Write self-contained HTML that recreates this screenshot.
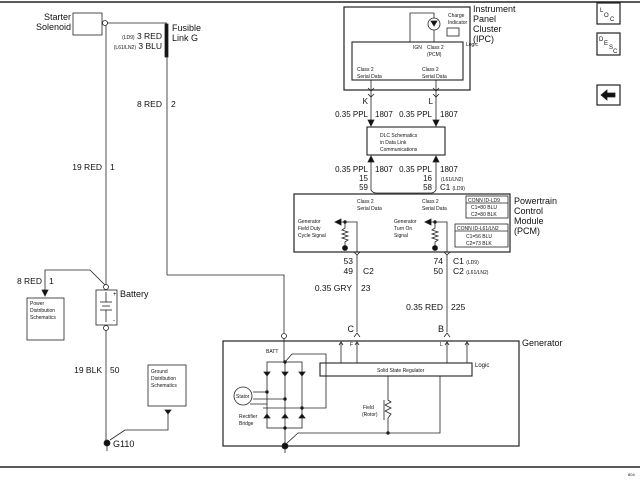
<!DOCTYPE html>
<html><head><style>body{margin:0;background:#fff}svg{display:block}text{font-family:"Liberation Sans",sans-serif;fill:#111}</style></head><body>
<svg width="640" height="480" viewBox="0 0 640 480" xmlns="http://www.w3.org/2000/svg" stroke="#222" fill="none" stroke-width="0.8">
<line x1="0" y1="2" x2="640" y2="2" stroke-width="1.5"/>
<line x1="0" y1="467" x2="640" y2="467" stroke-width="1.5"/>
<rect x="73" y="13" width="29" height="22"/>
<circle cx="105" cy="23" r="2.5" fill="#fff"/>
<line x1="106" y1="25" x2="106" y2="285"/>
<line x1="107" y1="23" x2="167" y2="23"/>
<rect x="165" y="24" width="3" height="33" fill="#111"/>
<line x1="167" y1="57" x2="167" y2="275"/>
<polyline points="167,275 284,275 284,333"/>
<circle cx="284" cy="336" r="2.5" fill="#fff"/>
<circle cx="106" cy="287" r="2.5" fill="#fff"/>
<rect x="96" y="290" width="21" height="35"/>
<line x1="100" y1="302" x2="112" y2="302"/><line x1="102" y1="306" x2="110" y2="306"/><line x1="100" y1="310" x2="112" y2="310"/>
<line x1="106" y1="292" x2="106" y2="302"/><line x1="106" y1="310" x2="106" y2="322"/>
<circle cx="106" cy="328" r="2.5" fill="#fff"/>
<polyline points="105,285 90,270 45,270 45,290"/>
<polygon points="42,290 48,290 45,296" fill="#111"/>
<rect x="27" y="298" width="37" height="42"/>
<line x1="106" y1="330" x2="106" y2="442"/>
<circle cx="107" cy="443" r="3" fill="#111"/>
<line x1="107" y1="446" x2="107" y2="451"/>
<rect x="148" y="365" width="38" height="41"/>
<polygon points="165,410 171,410 168,414" fill="#111"/>
<polyline points="168,414 168,430 125,430 110,440"/>
<rect x="344" y="7" width="126" height="83" stroke-width="1.2"/>
<rect x="352" y="42" width="111" height="38" stroke-width="1.1"/>
<polyline points="410,42 410,13 434,13 434,42"/>
<circle cx="434" cy="24" r="6" fill="#fff"/>
<polygon points="431,21 437,21 434,26" fill="#111"/>
<rect x="447" y="28" width="12" height="8"/>
<line x1="371" y1="80" x2="371" y2="122"/><line x1="436" y1="80" x2="436" y2="122"/>
<polyline points="368,88 371,91 374,88"/><polyline points="433,88 436,91 439,88"/>
<polyline points="368,94 371,97 374,94"/><polyline points="433,94 436,97 439,94"/>
<polygon points="368,120 374,120 371,126" fill="#111"/><polygon points="433,120 439,120 436,126" fill="#111"/>
<rect x="367" y="127" width="78" height="28" stroke-width="1.1"/>
<line x1="371" y1="160" x2="371" y2="190"/><line x1="436" y1="160" x2="436" y2="190"/>
<polygon points="368,162 374,162 371,156" fill="#111"/><polygon points="433,162 439,162 436,156" fill="#111"/>
<path d="M371,190 Q373,193 376,193 L431,193 Q434,193 436,190"/>
<rect x="294" y="194" width="216" height="58" stroke-width="1.2"/>
<rect x="466" y="196" width="42" height="22"/><line x1="466" y1="203" x2="508" y2="203"/>
<rect x="455" y="224" width="53" height="23"/><line x1="455" y1="231" x2="508" y2="231"/>
<polyline points="340,222 357,222 357,252"/><polygon points="335,222 341,219 341,225" fill="#111"/>
<polyline points="430,222 447,222 447,252"/><polygon points="425,222 431,219 431,225" fill="#111"/>
<circle cx="345" cy="222" r="1.3" fill="#111"/><circle cx="435" cy="222" r="1.3" fill="#111"/>
<polyline points="345,222 345,228 342,230 348,232 342,234 348,236 342,238 348,240 345,242 345,246"/>
<polyline points="435,222 435,228 432,230 438,232 432,234 438,236 432,238 438,240 435,242 435,246"/>
<circle cx="345" cy="248" r="2.5" fill="#111"/><circle cx="435" cy="248" r="2.5" fill="#111"/>
<polyline points="354,252 357,255 360,252"/><polyline points="444,252 447,255 450,252"/>
<line x1="357" y1="255" x2="357" y2="332"/><line x1="447" y1="255" x2="447" y2="332"/>
<polyline points="354,337 357,333 360,337"/><polyline points="444,337 447,333 450,337"/>
<rect x="223" y="341" width="296" height="105" stroke-width="1.2"/>
<line x1="284" y1="338" x2="284" y2="362"/>
<line x1="341" y1="343" x2="341" y2="363"/><line x1="357" y1="343" x2="357" y2="363"/>
<line x1="447" y1="343" x2="447" y2="363"/><line x1="467" y1="343" x2="467" y2="363"/>
<polyline points="339,345 341,342 343,345"/><polyline points="355,345 357,342 359,345"/>
<polyline points="445,345 447,342 449,345"/><polyline points="465,345 467,342 469,345"/>
<rect x="320" y="363" width="152" height="13" stroke-width="1.1"/>
<rect x="267" y="362" width="35" height="66"/>
<line x1="285" y1="362" x2="285" y2="446"/>
<polyline points="285,362 292,354 326,354 326,408 263,408"/>
<line x1="253" y1="392" x2="267" y2="392"/><line x1="253" y1="399" x2="285" y2="399"/><line x1="250" y1="404" x2="267" y2="404"/>
<g fill="#111">
<polygon points="264,372 270,372 267,376"/><polygon points="282,372 288,372 285,376"/><polygon points="299,372 305,372 302,376"/>
<polygon points="264,418 270,418 267,414"/><polygon points="282,418 288,418 285,414"/><polygon points="299,418 305,418 302,414"/>
<circle cx="285" cy="362" r="1.3"/><circle cx="267" cy="392" r="1.3"/><circle cx="285" cy="399" r="1.3"/><circle cx="302" cy="408" r="1.3"/><circle cx="285" cy="428" r="1.3"/><circle cx="388" cy="433" r="1.3"/>
<circle cx="285" cy="446" r="3"/></g>
<line x1="285" y1="449" x2="285" y2="453"/>
<circle cx="243" cy="396" r="9" fill="#fff"/>
<polyline points="388,376 388,400 391,402 385,405 391,408 385,411 391,414 388,418 388,433"/>
<line x1="384" y1="400" x2="384" y2="420" stroke="#888" stroke-width="1.5"/>
<polyline points="440,376 440,433 298,433 287,443"/>
<rect x="597" y="3" width="23" height="21" stroke-width="1.2"/>
<rect x="597" y="33" width="23" height="22" stroke-width="1.2"/>
<rect x="597" y="85" width="23" height="20" stroke-width="1.2"/>
<polygon points="601,95 607,90 607,93 615,93 615,97 607,97 607,100" fill="#111"/>
<g stroke="none">
<text x="71" y="20" font-size="9" text-anchor="end">Starter</text>
<text x="71" y="30" font-size="9" text-anchor="end">Solenoid</text>
<text x="162" y="39" font-size="8.5" text-anchor="end"><tspan font-size="5">(LD9)</tspan> 3 RED</text>
<text x="162" y="49" font-size="8.5" text-anchor="end"><tspan font-size="5">(L61/LN2)</tspan> 3 BLU</text>
<text x="172" y="31" font-size="9">Fusible</text>
<text x="172" y="41" font-size="9">Link G</text>
<text x="162" y="107" font-size="8.5" text-anchor="end">8 RED</text><text x="171" y="107" font-size="8.5">2</text>
<text x="102" y="170" font-size="8.5" text-anchor="end">19 RED</text><text x="110" y="170" font-size="8.5">1</text>
<text x="42" y="284" font-size="8.5" text-anchor="end">8 RED</text><text x="49" y="284" font-size="8.5">1</text>
<text x="30" y="305" font-size="5">Power</text><text x="30" y="312" font-size="5">Distribution</text><text x="30" y="319" font-size="5">Schematics</text>
<text x="120" y="297" font-size="9">Battery</text>
<text x="113" y="296" font-size="6">+</text><text x="113" y="322" font-size="6">-</text>
<text x="102" y="373" font-size="8.5" text-anchor="end">19 BLK</text><text x="110" y="373" font-size="8.5">50</text>
<text x="151" y="373" font-size="5">Ground</text><text x="151" y="380" font-size="5">Distribution</text><text x="151" y="387" font-size="5">Schematics</text>
<text x="113" y="447" font-size="9">G110</text>
<text x="473" y="12" font-size="9">Instrument</text><text x="473" y="22" font-size="9">Panel</text><text x="473" y="32" font-size="9">Cluster</text><text x="473" y="42" font-size="9">(IPC)</text>
<text x="448" y="17" font-size="5">Charge</text><text x="448" y="24" font-size="5">Indicator</text>
<text x="466" y="46" font-size="5">Logic</text>
<text x="413" y="49" font-size="5">IGN</text>
<text x="427" y="49" font-size="5">Class 2</text><text x="427" y="56" font-size="5">(PCM)</text>
<text x="357" y="71" font-size="5">Class 2</text><text x="357" y="78" font-size="5">Serial Data</text>
<text x="422" y="71" font-size="5">Class 2</text><text x="422" y="78" font-size="5">Serial Data</text>
<text x="368" y="104" font-size="8" text-anchor="end">K</text><text x="433" y="104" font-size="8" text-anchor="end">L</text>
<text x="368" y="117" font-size="8" text-anchor="end">0.35 PPL</text><text x="375" y="117" font-size="8">1807</text>
<text x="432" y="117" font-size="8" text-anchor="end">0.35 PPL</text><text x="440" y="117" font-size="8">1807</text>
<text x="380" y="137" font-size="5">DLC Schematics</text><text x="380" y="144" font-size="5">in Data Link</text><text x="380" y="151" font-size="5">Communications</text>
<text x="368" y="172" font-size="8" text-anchor="end">0.35 PPL</text><text x="375" y="172" font-size="8">1807</text>
<text x="432" y="172" font-size="8" text-anchor="end">0.35 PPL</text><text x="440" y="172" font-size="8">1807</text>
<text x="368" y="181" font-size="8" text-anchor="end">15</text><text x="432" y="181" font-size="8" text-anchor="end">16</text><text x="441" y="181" font-size="5">(L61/LN2)</text>
<text x="368" y="190" font-size="8" text-anchor="end">59</text><text x="432" y="190" font-size="8" text-anchor="end">58</text><text x="440" y="190" font-size="8">C1 <tspan font-size="5">(LD9)</tspan></text>
<text x="357" y="203" font-size="5">Class 2</text><text x="357" y="210" font-size="5">Serial Data</text>
<text x="422" y="203" font-size="5">Class 2</text><text x="422" y="210" font-size="5">Serial Data</text>
<text x="468" y="202" font-size="5">CONN ID-LD9</text><text x="471" y="209" font-size="5">C1=80 BLU</text><text x="471" y="216" font-size="5">C2=80 BLK</text>
<text x="457" y="230" font-size="5">CONN ID-L61/LN2</text><text x="466" y="238" font-size="5">C1=56 BLU</text><text x="466" y="245" font-size="5">C2=73 BLK</text>
<text x="298" y="223" font-size="5">Generator</text><text x="298" y="230" font-size="5">Field Duty</text><text x="298" y="237" font-size="5">Cycle Signal</text>
<text x="394" y="223" font-size="5">Generator</text><text x="394" y="230" font-size="5">Turn On</text><text x="394" y="237" font-size="5">Signal</text>
<text x="514" y="204" font-size="9">Powertrain</text><text x="514" y="214" font-size="9">Control</text><text x="514" y="224" font-size="9">Module</text><text x="514" y="234" font-size="9">(PCM)</text>
<text x="353" y="264" font-size="8.5" text-anchor="end">53</text><text x="353" y="274" font-size="8.5" text-anchor="end">49</text><text x="363" y="274" font-size="8.5">C2</text>
<text x="443" y="264" font-size="8.5" text-anchor="end">74</text><text x="453" y="264" font-size="8.5">C1 <tspan font-size="5">(LD9)</tspan></text>
<text x="443" y="274" font-size="8.5" text-anchor="end">50</text><text x="453" y="274" font-size="8.5">C2 <tspan font-size="5">(L61/LN2)</tspan></text>
<text x="352" y="291" font-size="8.5" text-anchor="end">0.35 GRY</text><text x="361" y="291" font-size="8.5">23</text>
<text x="443" y="310" font-size="8.5" text-anchor="end">0.35 RED</text><text x="451" y="310" font-size="8.5">225</text>
<text x="354" y="332" font-size="9" text-anchor="end">C</text><text x="444" y="332" font-size="9" text-anchor="end">B</text>
<text x="522" y="346" font-size="9">Generator</text>
<text x="350" y="346" font-size="5">F</text><text x="440" y="346" font-size="5">L</text>
<text x="266" y="353" font-size="5">BATT</text>
<text x="377" y="372" font-size="5">Solid State Regulator</text>
<text x="475" y="367" font-size="6">Logic</text>
<text x="236" y="398" font-size="5">Stator</text>
<text x="239" y="418" font-size="5">Rectifier</text><text x="239" y="425" font-size="5">Bridge</text>
<text x="363" y="409" font-size="5">Field</text><text x="362" y="416" font-size="5">(Rotor)</text>
<text x="600" y="12" font-size="6">L</text><text x="604" y="17" font-size="6">O</text><text x="610" y="21" font-size="6">C</text>
<text x="599" y="41" font-size="6">D</text><text x="604" y="45" font-size="6">E</text><text x="609" y="49" font-size="6">S</text><text x="613" y="53" font-size="6">C</text>
<text x="628" y="476" font-size="4">804</text>
</g>
</svg>
</body></html>
